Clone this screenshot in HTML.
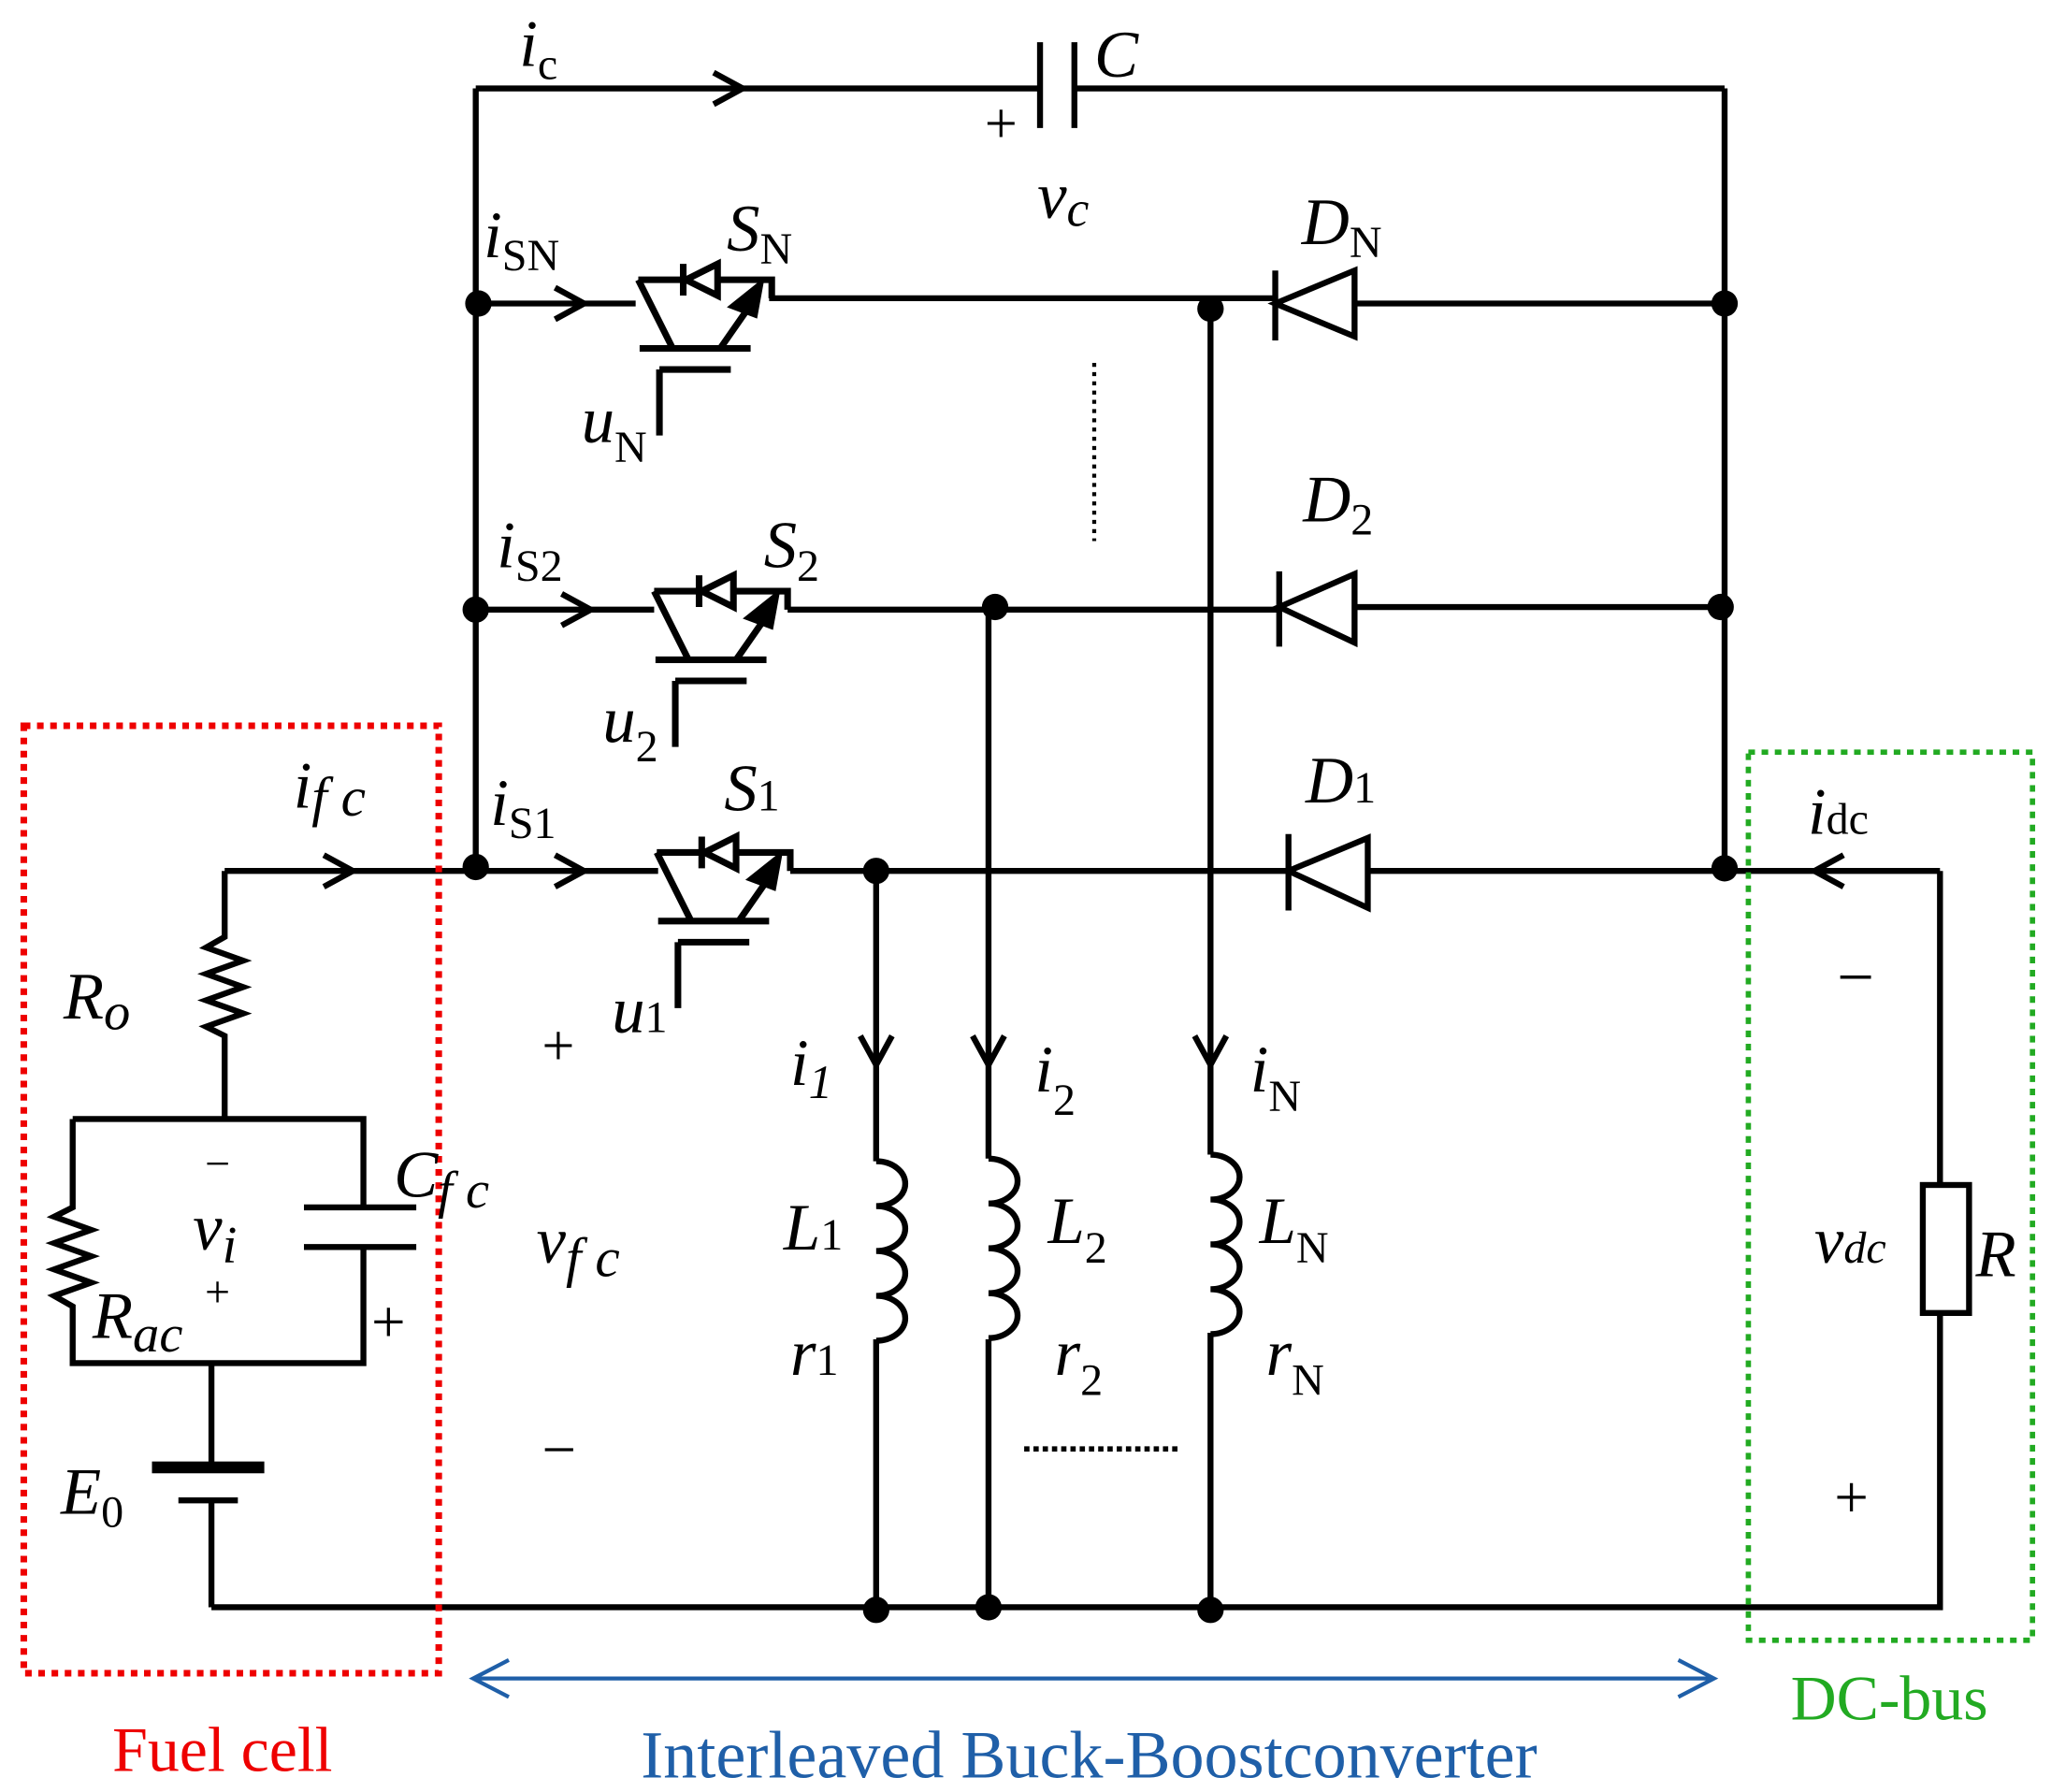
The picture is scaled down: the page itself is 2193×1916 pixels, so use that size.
<!DOCTYPE html>
<html><head><meta charset="utf-8">
<style>
html,body{margin:0;padding:0;background:#fff;}
svg{display:block;}
text{font-family:"Liberation Serif",serif;}
.l{font-style:italic;font-size:50px;}
.s{font-size:34px;}
</style></head><body>
<svg width="2193" height="1916" viewBox="0 0 1552 1358" preserveAspectRatio="none" xmlns="http://www.w3.org/2000/svg">
<g stroke="#000" stroke-width="4.5" fill="none">
<path d="M360 67H787M813 67H1305"/>
<path d="M787 32V97M813 32V97"/>
<path d="M540 55L562 67L540 79"/>
<path d="M360 67V660M1305 67V660"/>
<path d="M362 230H481M582 226H965M1025 230H1305"/>
<path d="M420 218L442 230L420 242"/>
<path d="M360 462H495M596 462H968M1025 460H1302"/>
<path d="M425 450L447 462L425 474"/>
<path d="M170 660H498M598 660H975M1035 660H1468"/>
<path d="M245 648L267 660L245 672"/>
<path d="M420 648L442 660L420 672"/>
<path d="M1395 648L1373 660L1395 672"/>
<path d="M663 660V880M663 1015V1220"/>
<path d="M748 460V878M748 1015V1218"/>
<path d="M916 230V875M916 1010V1220"/>
<path d="M651 785L663 807L675 785M736 785L748 807L760 785M904 785L916 807L928 785"/>
<path d="M663 880a22 17 0 1 1 0 34a22 17 0 1 1 0 34a22 17 0 1 1 0 34a22 17 0 1 1 0 34" />
<path d="M748 878a22 17 0 1 1 0 34a22 17 0 1 1 0 34a22 17 0 1 1 0 34a22 17 0 1 1 0 34" />
<path d="M916 875a22 17 0 1 1 0 34a22 17 0 1 1 0 34a22 17 0 1 1 0 34a22 17 0 1 1 0 34" />
<path d="M160 1218H1468V660"/>
<rect x="1455" y="898" width="35" height="97" fill="#fff"/>
<path d="M170 660V710l-14 8l28 10l-28 10l28 10l-28 10l28 10l-28 10l14 7V848"/>
<path d="M55 848H275V915M275 945V1033H55V990l-14-8l28-10l-28-10l28-10l-28-10l28-10l-28-10l14-7V848"/>
<path d="M230 915H315M230 945H315"/>
<path d="M160 1033V1112M135 1137H180M160 1137V1218" />
</g>
<path d="M115 1112H200" stroke="#000" stroke-width="9"/>
<g stroke="#000" stroke-width="4.5" fill="#fff">
<path d="M965 230L1025 205V255Z"/><path d="M965 205V258" fill="none"/>
<path d="M968 460L1025 435V487Z"/><path d="M968 433V490" fill="none"/>
<path d="M975 660L1035 635V688Z"/><path d="M975 632V690" fill="none"/>
</g>
<g stroke="#000" stroke-width="5" fill="none">
<g transform="translate(483,226)">
<path d="M0 -14L26 38M1 38H85M16 54H70M16 54V104M62 38L85 5"/>
<path d="M0 -14H101V0"/>
<path d="M72 6L92 -10L88 12Z" fill="#000"/>
<path d="M34 -26V-2M36 -14L60 -26V-2Z" fill="#fff"/>
</g>
<g transform="translate(495,462)">
<path d="M0 -14L26 38M1 38H85M16 54H70M16 54V104M62 38L85 5"/>
<path d="M0 -14H101V0"/>
<path d="M72 6L92 -10L88 12Z" fill="#000"/>
<path d="M34 -26V-2M36 -14L60 -26V-2Z" fill="#fff"/>
</g>
<g transform="translate(497,660)">
<path d="M0 -14L26 38M1 38H85M16 54H70M16 54V104M62 38L85 5"/>
<path d="M0 -14H101V0"/>
<path d="M72 6L92 -10L88 12Z" fill="#000"/>
<path d="M34 -26V-2M36 -14L60 -26V-2Z" fill="#fff"/>
</g>
</g>
<path d="M483 226V212M495 462V448M497 660V646" stroke="#fff" stroke-width="0"/>
<g fill="#000">
<circle cx="362" cy="230" r="10"/><circle cx="916" cy="234" r="10"/><circle cx="1305" cy="230" r="10"/>
<circle cx="360" cy="462" r="10"/><circle cx="753" cy="460" r="10"/><circle cx="1302" cy="460" r="10"/>
<circle cx="360" cy="657" r="10"/><circle cx="663" cy="660" r="10"/><circle cx="1305" cy="658" r="10"/>
<circle cx="663" cy="1220" r="10"/><circle cx="748" cy="1218" r="10"/><circle cx="916" cy="1220" r="10"/>
</g>
<path d="M828 275V410" stroke="#000" stroke-width="3" stroke-dasharray="3 4"/>
<path d="M775 1098H893" stroke="#000" stroke-width="4" stroke-dasharray="4 3"/>
<rect x="18" y="550" width="314" height="718" fill="none" stroke="#e00" stroke-width="5" stroke-dasharray="5 5"/>
<rect x="1323" y="570" width="215" height="673" fill="none" stroke="#2a2" stroke-width="4" stroke-dasharray="5 5"/>
<g stroke="#1f5fa8" stroke-width="3" fill="none">
<path d="M358 1272H1297M385 1258L358 1272L385 1286M1270 1258L1297 1272L1270 1286"/>
</g>
<g fill="#000">
<text class="l" x="393" y="50">i<tspan class="s" font-style="normal" dy="10">c</tspan></text>
<text class="l" x="828" y="58">C</text>
<text x="745" y="108" font-size="44">+</text>
<text class="l" x="785" y="165">v<tspan font-size="38" dy="6">c</tspan></text>
<text class="l" x="366" y="195">i<tspan class="s" font-style="normal" dy="10">SN</tspan></text>
<text class="l" x="550" y="190">S<tspan class="s" font-style="normal" dy="10">N</tspan></text>
<text class="l" x="985" y="185">D<tspan class="s" font-style="normal" dy="10">N</tspan></text>
<text class="l" x="440" y="335">u<tspan class="s" font-style="normal" dy="15">N</tspan></text>
<text class="l" x="376" y="430">i<tspan class="s" font-style="normal" dy="10">S2</tspan></text>
<text class="l" x="578" y="430">S<tspan class="s" font-style="normal" dy="10">2</tspan></text>
<text class="l" x="986" y="395">D<tspan class="s" font-style="normal" dy="10">2</tspan></text>
<text class="l" x="456" y="562">u<tspan class="s" font-style="normal" dy="15">2</tspan></text>
<text class="l" x="222" y="612">i<tspan font-size="42" dy="6">f c</tspan></text>
<text class="l" x="371" y="625">i<tspan class="s" font-style="normal" dy="10">S1</tspan></text>
<text class="l" x="548" y="614">S<tspan class="s" font-style="normal">1</tspan></text>
<text class="l" x="988" y="608">D<tspan class="s" font-style="normal">1</tspan></text>
<text class="l" x="1368" y="632">i<tspan class="s" font-style="normal">dc</tspan></text>
<text class="l" x="463" y="782">u<tspan class="s" font-style="normal">1</tspan></text>
<text class="l" x="48" y="772">R<tspan font-size="40" dy="8">o</tspan></text>
<text x="410" y="807" font-size="44">+</text>
<text x="1390" y="757" font-size="50">−</text>
<text class="l" x="598" y="822">i<tspan font-size="36" dy="10">1</tspan></text>
<text class="l" x="783" y="827">i<tspan class="s" font-style="normal" dy="18">2</tspan></text>
<text class="l" x="946" y="827">i<tspan class="s" font-style="normal" dy="15">N</tspan></text>
<text x="155" y="893" font-size="34">−</text>
<text class="l" x="298" y="907">C<tspan font-size="40" dy="8">f c</tspan></text>
<text class="l" x="146" y="947">v<tspan font-size="40" dy="10">i</tspan></text>
<text class="l" x="406" y="957">v<tspan font-size="42" dy="10">f c</tspan></text>
<text class="l" x="593" y="947">L<tspan class="s" font-style="normal">1</tspan></text>
<text class="l" x="793" y="942">L<tspan class="s" font-style="normal" dy="15">2</tspan></text>
<text class="l" x="953" y="942">L<tspan class="s" font-style="normal" dy="15">N</tspan></text>
<text class="l" x="1373" y="957">v<tspan class="s">dc</tspan></text>
<text class="l" x="1495" y="967">R</text>
<text x="155" y="990" font-size="34">+</text>
<text class="l" x="70" y="1014">R<tspan font-size="40" dy="10">ac</tspan></text>
<text x="281" y="1017" font-size="46">+</text>
<text class="l" x="598" y="1042">r<tspan class="s" font-style="normal">1</tspan></text>
<text class="l" x="798" y="1042">r<tspan class="s" font-style="normal" dy="15">2</tspan></text>
<text class="l" x="958" y="1042">r<tspan class="s" font-style="normal" dy="15">N</tspan></text>
<text x="410" y="1114" font-size="46">−</text>
<text class="l" x="46" y="1147">E<tspan class="s" font-style="normal" dy="10">0</tspan></text>
<text x="1388" y="1150" font-size="46">+</text>
</g>
<text x="85" y="1342" font-size="48" fill="#e00">Fuel cell</text>
<text x="485" y="1347" font-size="51" fill="#1f5fa8">Interleaved Buck-Boostconverter</text>
<text x="1355" y="1303" font-size="48" fill="#2a2">DC-bus</text>
</svg>
</body></html>
